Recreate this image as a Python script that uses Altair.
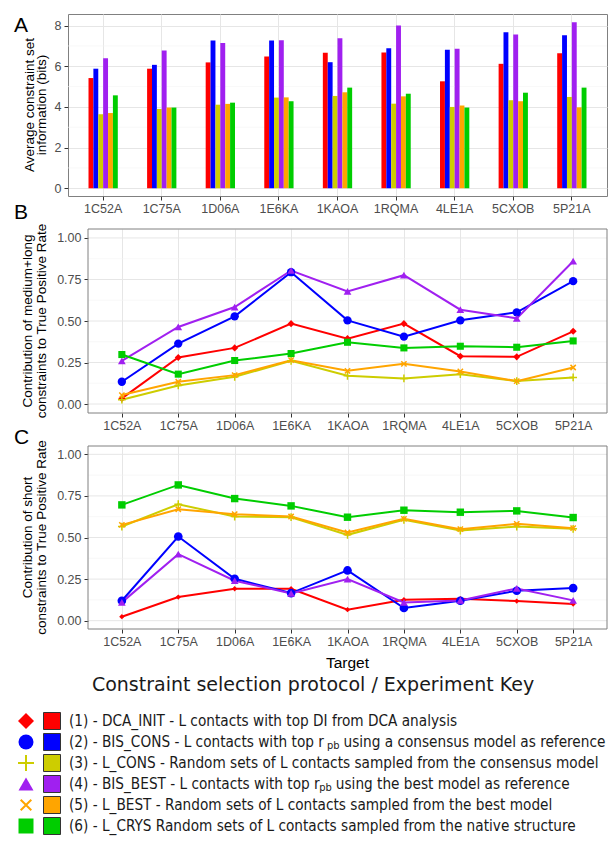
import altair as alt
import pandas as pd

# ---------------- data ----------------
targets = ["1C52A", "1C75A", "1D06A", "1E6KA", "1KAOA", "1RQMA", "4LE1A", "5CXOB", "5P21A"]
series_names = ["DCA_INIT", "BIS_CONS", "L_CONS", "BIS_BEST", "L_BEST", "L_CRYS"]
series_colors = ["#FF0000", "#0000FF", "#CDCD00", "#A020F0", "#FFA500", "#00CD00"]

# Panel A: average constraint set information (bits)
bits_dca_init = [5.42, 5.88, 6.19, 6.48, 6.66, 6.68, 5.26, 6.12, 6.64]
bits_bis_cons = [5.88, 6.07, 7.27, 7.27, 6.20, 6.89, 6.81, 7.67, 7.53]
bits_l_cons = [3.64, 3.90, 4.11, 4.46, 4.54, 4.16, 4.00, 4.33, 4.49]
bits_bis_best = [6.40, 6.78, 7.15, 7.28, 7.38, 8.00, 6.86, 7.56, 8.16]
bits_l_best = [3.70, 3.97, 4.15, 4.47, 4.72, 4.52, 4.07, 4.28, 3.98]
bits_l_crys = [4.57, 3.97, 4.21, 4.28, 4.95, 4.65, 3.97, 4.70, 4.95]

# Panel B: contribution of medium+long constraints to TPR
ml_dca_init = [0.034, 0.280, 0.338, 0.484, 0.394, 0.484, 0.288, 0.284, 0.438]
ml_bis_cons = [0.134, 0.364, 0.528, 0.794, 0.504, 0.406, 0.504, 0.552, 0.740]
ml_l_cons = [0.026, 0.112, 0.164, 0.260, 0.170, 0.154, 0.180, 0.138, 0.160]
ml_bis_best = [0.260, 0.464, 0.584, 0.804, 0.678, 0.776, 0.568, 0.516, 0.860]
ml_l_best = [0.054, 0.134, 0.174, 0.264, 0.200, 0.242, 0.196, 0.138, 0.220]
ml_l_crys = [0.298, 0.180, 0.262, 0.304, 0.372, 0.338, 0.348, 0.342, 0.380]

# Panel C: contribution of short constraints to TPR
sh_dca_init = [0.024, 0.142, 0.192, 0.192, 0.066, 0.126, 0.132, 0.118, 0.100]
sh_bis_cons = [0.120, 0.506, 0.252, 0.166, 0.302, 0.076, 0.120, 0.180, 0.196]
sh_l_cons = [0.566, 0.700, 0.626, 0.622, 0.516, 0.606, 0.542, 0.566, 0.552]
sh_bis_best = [0.110, 0.400, 0.240, 0.164, 0.250, 0.110, 0.122, 0.194, 0.122]
sh_l_best = [0.576, 0.670, 0.640, 0.626, 0.530, 0.612, 0.550, 0.582, 0.556]
sh_l_crys = [0.696, 0.816, 0.734, 0.690, 0.622, 0.664, 0.652, 0.660, 0.620]

bits_major = [0, 2, 4, 6, 8]
bits_minor = [1, 3, 5, 7]
rate_major = [0, 0.25, 0.5, 0.75, 1.0]
rate_minor = [0.125, 0.375, 0.625, 0.875]

title_a = ["Average constraint set", "information (bits)"]
title_b = ["Contribution of medium+long", "constraints to True Positive Rate"]
title_c = ["Contribution of short", "constraints to True Positive Rate"]
x_title = ["Target"]

legend_main = [
    "(1) - DCA_INIT - L contacts with top DI from DCA analysis",
    "(2) - BIS_CONS - L contacts with top r",
    "(3) - L_CONS - Random sets of L contacts sampled from the consensus model",
    "(4) - BIS_BEST - L contacts with top r",
    "(5) - L_BEST - Random sets of L contacts sampled from the best model",
    "(6) - L_CRYS Random sets of L contacts sampled from the native structure",
]
legend_sub = ["", "pb", "", "pb", "", ""]
legend_tail = ["", "using a consensus model as reference", "", "using the best model as reference", "", ""]
legend_title = ["Constraint selection protocol / Experiment Key"]

# ---------------- style ----------------
FONT = "Liberation Sans"
LEGFONT = "DejaVu Sans Condensed"
GRID = "#E6E6E6"
MINOR = "#F3F3F3"
FRAME = "#808080"
TICK = "#333333"
LABEL = "#4D4D4D"
PLUS = "M-1,0L1,0M0,-1L0,1"
XSHAPE = "M-0.75,-0.75L0.75,0.75M-0.75,0.75L0.75,-0.75"
marker_shapes = ["diamond", "circle", PLUS, "triangle-up", XSHAPE, "square"]
marker_filled = [True, True, False, True, False, True]
sizes_b = [50, 70, 60, 60, 50, 50]
sizes_c = [28, 75, 60, 60, 50, 55]

W = 539          # every panel's view width (panel A's frame)
INSET = 20       # panels B and C: frame starts this far right of the view's left edge
STEP = (W - INSET) / 9.2
H_A, H_B, H_C = 182, 184, 183
GAP = 33


def long_df(lists):
    rows = []
    for s, vals in zip(series_names, lists):
        for t, v in zip(targets, vals):
            rows.append({"target": t, "series": s, "value": v})
    return pd.DataFrame(rows)


color_enc = alt.Color("series:N", scale=alt.Scale(domain=series_names, range=series_colors), legend=None)
one = pd.DataFrame({"k": [0]})


def x_axis():
    return alt.Axis(title=None, labelAngle=0, grid=True, gridColor=GRID, gridWidth=1, domain=False,
                    tickColor=TICK, tickSize=4, labelPadding=2, labelFontSize=12.5,
                    labelColor=LABEL, labelFont=FONT, bandPosition=0.5)


def y_enc(domain, values, fmt, grid, offset):
    return alt.Y(
        "value:Q",
        scale=alt.Scale(domain=domain, nice=False, zero=False),
        axis=alt.Axis(values=values, format=fmt, title=None, grid=grid, gridColor=GRID, gridWidth=1,
                      domain=False, tickColor=TICK, tickSize=4, labelPadding=3, labelFontSize=12.5,
                      labelColor=LABEL, labelFont=FONT, offset=offset),
    )


def text_layer(text, x, y, size, font=FONT, align="left", baseline="alphabetic", angle=0, color="#000000"):
    return alt.Chart(one).mark_text(text=text, font=font, fontSize=size, align=align, baseline=baseline,
                                    angle=angle, color=color).encode(x=alt.value(x), y=alt.value(y))


def ytitle_layers(lines, x1, x2, h):
    return [text_layer(lines[0], x1, h / 2, 13.5, align="center", baseline="middle", angle=270),
            text_layer(lines[1], x2, h / 2, 13.5, align="center", baseline="middle", angle=270)]


# ---------------- panel A ----------------
dfA = long_df([bits_dca_init, bits_bis_cons, bits_l_cons, bits_bis_best, bits_l_best, bits_l_crys])
yA = y_enc([-0.38, 8.57], bits_major, "d", True, 0)
minorA = alt.Chart(pd.DataFrame({"value": bits_minor})).mark_rule(color=MINOR, strokeWidth=0.6).encode(y=yA)
barsA = alt.Chart(dfA).mark_bar().encode(
    x=alt.X("target:N", sort=targets, scale=alt.Scale(type="band", paddingInner=0.5, paddingOuter=0.35),
            axis=x_axis()),
    xOffset=alt.XOffset("series:N", sort=series_names, scale=alt.Scale(paddingInner=0, paddingOuter=0)),
    y=yA,
    y2=alt.Y2Datum(0),
    color=color_enc,
)
panelA = alt.layer(minorA, barsA, text_layer("A", -54, 18, 21), *ytitle_layers(title_a, -38, -26, H_A)).properties(
    width=W, height=H_A)


# ---------------- line panels ----------------
def line_layers(lists, domain, sizes, h):
    df = long_df(lists)
    y = y_enc(domain, rate_major, ".2f", False, -INSET)
    x = alt.X("target:N", sort=targets,
              scale=alt.Scale(type="point", range=[INSET + 0.6 * STEP, W - 0.6 * STEP], padding=0),
              axis=x_axis())
    major = alt.Chart(pd.DataFrame({"value": rate_major})).mark_rule(color=GRID, strokeWidth=1).encode(
        y=y, x=alt.value(INSET), x2=alt.value(W))
    minor = alt.Chart(pd.DataFrame({"value": rate_minor})).mark_rule(color=MINOR, strokeWidth=0.6).encode(
        y=y, x=alt.value(INSET), x2=alt.value(W))
    lines = alt.Chart(df).mark_line(strokeWidth=2).encode(x=x, y=y, color=color_enc)
    layers = [minor, major, lines]
    for name, col, shp, fil, sz in zip(series_names, series_colors, marker_shapes, marker_filled, sizes):
        if fil:
            mk = alt.Chart(df).transform_filter(alt.datum.series == name).mark_point(
                shape=shp, filled=True, size=sz, color=col, opacity=1)
        else:
            mk = alt.Chart(df).transform_filter(alt.datum.series == name).mark_point(
                shape=shp, filled=False, size=sz, color=col, opacity=1, strokeWidth=1.5)
        layers.append(mk.encode(x=x, y=y))
    frame = alt.Chart(one).mark_rect(filled=False, color=FRAME, strokeWidth=1).encode(
        x=alt.value(INSET), x2=alt.value(W), y=alt.value(0), y2=alt.value(h))
    layers.append(frame)
    return layers


panelB = alt.layer(
    *line_layers([ml_dca_init, ml_bis_cons, ml_l_cons, ml_bis_best, ml_l_best, ml_l_crys],
                 [-0.054, 1.054], sizes_b, H_B),
    text_layer("B", -54, -10, 21),
    *ytitle_layers(title_b, -40, -26, H_B),
).properties(width=W, height=H_B, view=alt.ViewBackground(stroke="transparent"))

plotC = alt.layer(
    *line_layers([sh_dca_init, sh_bis_cons, sh_l_cons, sh_bis_best, sh_l_best, sh_l_crys],
                 [-0.05, 1.05], sizes_c, H_C),
    text_layer("C", -54, -2, 21),
    *ytitle_layers(title_c, -40, -26, H_C),
    text_layer(x_title[0], INSET + (W - INSET) / 2, H_C + 39, 15.5, align="center"),
)

# ---------------- legend (drawn below panel C, own y scale) ----------------
leg_df = pd.DataFrame({"key": list(range(6)), "series": series_names, "main": legend_main,
                       "sub": legend_sub, "tail": legend_tail})
ypos = alt.Y("key:O", scale=alt.Scale(type="point", range=[275, 380], padding=0), axis=None)
leg_layers = []
leg_sizes = [256, 225, 256, 225, 200, 225]
for i, (col, shp, fil, sz) in enumerate(zip(series_colors, marker_shapes, marker_filled, leg_sizes)):
    base = alt.Chart(leg_df).transform_filter(alt.datum.key == i)
    if fil:
        mk = base.mark_point(shape=shp, filled=True, size=sz, color=col, opacity=1)
    else:
        mk = base.mark_point(shape=shp, filled=False, size=sz, color=col, opacity=1, strokeWidth=2)
    leg_layers.append(mk.encode(x=alt.value(-42), y=ypos))
leg_layers.append(alt.Chart(leg_df).mark_square(size=289, stroke="#333333", strokeWidth=1, opacity=1).encode(
    x=alt.value(-16), y=ypos, color=color_enc))
LEGSIZE = 15.2
leg_layers.append(alt.Chart(leg_df).mark_text(align="left", baseline="middle", font=LEGFONT, fontSize=LEGSIZE,
                                              color="#1A1A1A").encode(x=alt.value(1), y=ypos, text="main:N"))
for i, sx, tx in [(1, 259, 275.5), (3, 251.3, 267.8)]:
    base = alt.Chart(leg_df).transform_filter(alt.datum.key == i)
    leg_layers.append(base.mark_text(align="left", baseline="middle", font=LEGFONT, fontSize=11, dy=4,
                                     color="#1A1A1A").encode(x=alt.value(sx), y=ypos, text="sub:N"))
    leg_layers.append(base.mark_text(align="left", baseline="middle", font=LEGFONT, fontSize=LEGSIZE,
                                     color="#1A1A1A").encode(x=alt.value(tx), y=ypos, text="tail:N"))
leg_layers.append(text_layer(legend_title[0], 245, 245, 19, font="DejaVu Sans", align="center",
                             color="#1A1A1A"))

panelC = alt.layer(plotC, alt.layer(*leg_layers)).resolve_scale(y="independent").properties(
    width=W, height=H_C, view=alt.ViewBackground(stroke="transparent"))

chart = alt.vconcat(panelA, panelB, panelC, spacing=GAP, bounds="flush").properties(
    padding={"left": 5, "top": 5, "right": 0, "bottom": 0}
).configure_view(stroke=FRAME, strokeWidth=1)

chart.save("out.html", embed_options={"renderer": "svg", "actions": False})
